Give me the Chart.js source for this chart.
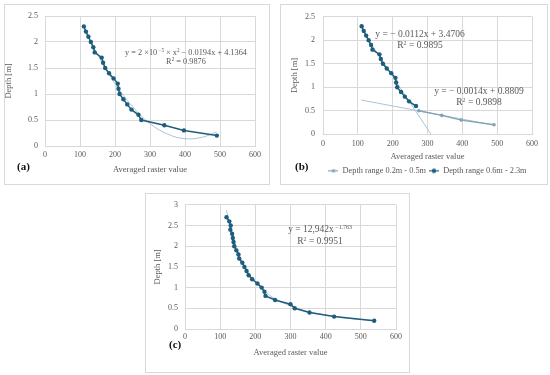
<!DOCTYPE html>
<html><head><meta charset="utf-8">
<script src="https://cdn.jsdelivr.net/npm/chart.js@4.4.1/dist/chart.umd.min.js"></script>
<style>
html,body{margin:0;padding:0;background:#fff;width:550px;height:375px;overflow:hidden}
.panel{position:absolute;outline:1px solid #d9d9d9;outline-offset:-1px;background:#fff}
.panel canvas{position:absolute;left:0;top:0}
.eq{position:absolute;font-family:"Liberation Serif",serif;color:#595959;text-align:center;white-space:nowrap;transform:translateX(-50%)}
.eq sup{font-size:0.62em;vertical-align:0.55em;line-height:0}
.lab{position:absolute;font-family:"Liberation Serif",serif;font-weight:bold;font-size:11px;line-height:12px;color:#111}
</style></head><body>

<div class="panel" style="left:4px;top:4px;width:266px;height:181px">
  <canvas id="ca" width="266" height="181"></canvas>
  <div class="eq" style="left:182px;top:44px;font-size:8.3px;line-height:9px">y = 2 ×10<sup> −5</sup> × x<sup>2</sup> − 0.0194x + 4.1364<br>R<sup>2</sup> = 0.9876</div>
  <div class="lab" style="left:13px;top:156px">(a)</div>
</div>

<div class="panel" style="left:280px;top:4px;width:268px;height:181px">
  <canvas id="cb" width="268" height="181"></canvas>
  <div class="eq" style="left:140px;top:25px;font-size:9.5px;line-height:10.5px">y = − 0.0112x + 3.4706<br>R<sup>2</sup> = 0.9895</div>
  <div class="eq" style="left:199px;top:82px;font-size:9.5px;line-height:11px">y = − 0.0014x + 0.8809<br>R<sup>2</sup> = 0.9898</div>
  <div class="lab" style="left:15px;top:156px">(b)</div>
</div>

<div class="panel" style="left:145px;top:193px;width:265px;height:180px">
  <canvas id="cc" width="265" height="180"></canvas>
  <div class="eq" style="left:175px;top:31px;font-size:9.5px;line-height:11.5px">y = 12,942x<sup> −1.763</sup><br>R<sup>2</sup> = 0.9951</div>
  <div class="lab" style="left:24px;top:145px">(c)</div>
</div>

<script>
// ---- data ----
const aDepth  = [2.3,2.2,2.1,2.0,1.9,1.8,1.7,1.6,1.5,1.4,1.3,1.2,1.1,1.0,0.9,0.8,0.7,0.6,0.5,0.4,0.3,0.2];
const aRaster = [111,117,124,131,138,142,162,166,172,183,196,208,210,213,224,235,247,267,275,341,397,491];
const aTrendX = [110,150,200,250,300,350,400,450,490];
const aTrendY = [2.29,1.76,1.20,0.76,0.43,0.23,0.14,0.17,0.27];

const bDeepDepth     = [2.3,2.2,2.1,2.0,1.9,1.8,1.7,1.6,1.5,1.4,1.3,1.2,1.1,1.0,0.9,0.8,0.7,0.6];
const bDeepRaster    = [111,117,124,131,138,142,162,166,172,183,196,208,210,213,224,235,247,267];
const bShallowDepth  = [0.5,0.4,0.3,0.2];
const bShallowRaster = [275,341,397,491];
const bTrendDeepX    = [110,310];
const bTrendDeepY    = [2.24,0];
const bTrendShallowX = [110,491];
const bTrendShallowY = [0.727,0.193];

const cDepth  = [2.7,2.6,2.5,2.4,2.3,2.2,2.1,2.0,1.9,1.8,1.7,1.6,1.5,1.4,1.3,1.2,1.1,1.0,0.9,0.8,0.7,0.6,0.5,0.4,0.3,0.2];
const cRaster = [118,126,130,129,134,136,138,140,146,152,154,163,169,175,181,191,206,218,226,229,256,300,312,354,424,538];
const cTrendX = [118,130,150,175,200,230,260,300,350,400,450,540];
const cTrendY = [2.87,2.43,1.89,1.44,1.14,0.89,0.71,0.56,0.42,0.34,0.27,0.20];

const xTitle = 'Averaged raster value';
const yTitle = 'Depth [m]';
const legendNames = ['Depth range 0.2m - 0.5m','Depth range 0.6m - 2.3m'];

// ---- styling ----
const DARK = '#1f5d7d', LIGHT = '#86a2b5', TREND = '#a9c5d5';
const GRID = '#d9d9d9', TXT = '#595959', FONT = '"Liberation Serif", serif';

const pts = (xs, ys) => xs.map((x, i) => ({x, y: ys[i]}));

function dataSet(xs, ys, color, r, w, order){
  return {data: pts(xs, ys), showLine: true, borderColor: color, backgroundColor: color,
    pointBackgroundColor: color, pointBorderColor: color, pointBorderWidth: 0, pointRadius: r, pointHoverRadius: r,
    borderWidth: w, tension: 0, order};
}
function trendSet(xs, ys, tension){
  return {data: pts(xs, ys), showLine: true, borderColor: TREND, backgroundColor: TREND,
    pointRadius: 0, borderWidth: 1, tension, order: 5};
}
function icon(color, r){
  const c = document.createElement('canvas'); c.width = 10; c.height = 7;
  const g = c.getContext('2d');
  g.strokeStyle = color; g.lineWidth = 1.2; g.beginPath(); g.moveTo(0,3.5); g.lineTo(10,3.5); g.stroke();
  g.fillStyle = color; g.beginPath(); g.arc(5,3.5,r,0,Math.PI*2); g.fill();
  return c;
}
const fmt = v => String(Math.round(v * 10) / 10);

function make(id, o){
  return new Chart(document.getElementById(id), {
    type: 'scatter',
    data: {datasets: o.datasets},
    options: {
      responsive: false, animation: false, devicePixelRatio: 1,
      layout: {padding: {left: 0, top: o.padTop, right: o.padRight, bottom: 0}},
      plugins: {
        legend: o.legend || {display: false},
        tooltip: {enabled: false}
      },
      scales: {
        x: {
          type: 'linear', min: 0, max: 600,
          ticks: {stepSize: 100, color: TXT, font: {family: FONT, size: 8}, padding: o.xTickPad, maxRotation: 0, callback: fmt},
          grid: {color: GRID, drawTicks: false},
          border: {color: GRID},
          title: {display: true, text: xTitle, color: TXT, font: {family: FONT, size: 8.5}, padding: {top: 0, bottom: o.xTitlePad}},
          afterFit: s => { s.height = o.xHeight; }
        },
        y: {
          type: 'linear', min: 0, max: o.yMax,
          ticks: {stepSize: 0.5, color: TXT, font: {family: FONT, size: 8}, padding: o.yTickPad, callback: fmt},
          grid: {color: GRID, drawTicks: false},
          border: {color: GRID},
          title: {display: true, text: yTitle, color: TXT, font: {family: FONT, size: 8.5}, padding: {top: o.yTitlePad, bottom: 0}},
          afterFit: s => { s.width = o.yWidth; }
        }
      }
    }
  });
}

make('ca', {
  datasets: [dataSet(aRaster, aDepth, DARK, 2.2, 1.5, 1), trendSet(aTrendX, aTrendY, 0.4)],
  padTop: 12, padRight: 15, yWidth: 41, xHeight: 39, yMax: 2.5,
  xTickPad: 4, xTitlePad: 10, yTickPad: 7, yTitlePad: 0
});

make('cb', {
  datasets: [
    dataSet(bShallowRaster, bShallowDepth, LIGHT, 1.8, 1.4, 2),
    dataSet(bDeepRaster, bDeepDepth, DARK, 2.2, 1.5, 1),
    trendSet(bTrendDeepX, bTrendDeepY, 0),
    trendSet(bTrendShallowX, bTrendShallowY, 0)
  ],
  padTop: 12, padRight: 16, yWidth: 43, xHeight: 29.5, yMax: 2.5,
  xTickPad: 5, xTitlePad: 1.5, yTickPad: 8, yTitlePad: 10,
  legend: {
    display: true, position: 'bottom', fullSize: false,
    labels: {
      usePointStyle: true, pointStyleWidth: 10, padding: 3,
      color: TXT, font: {family: FONT, size: 8.3},
      generateLabels: () => [
        {text: legendNames[0], pointStyle: icon(LIGHT, 1.8), fillStyle: LIGHT, strokeStyle: LIGHT, lineWidth: 0, hidden: false, datasetIndex: 0, fontColor: TXT},
        {text: legendNames[1], pointStyle: icon(DARK, 2.2), fillStyle: DARK, strokeStyle: DARK, lineWidth: 0, hidden: false, datasetIndex: 1, fontColor: TXT}
      ]
    }
  }
});

make('cc', {
  datasets: [dataSet(cRaster, cDepth, DARK, 2.2, 1.5, 1), trendSet(cTrendX, cTrendY, 0.4)],
  padTop: 11, padRight: 14, yWidth: 40, xHeight: 44, yMax: 3,
  xTickPad: 3, xTitlePad: 15, yTickPad: 7, yTitlePad: 8
});
</script>
</body></html>
